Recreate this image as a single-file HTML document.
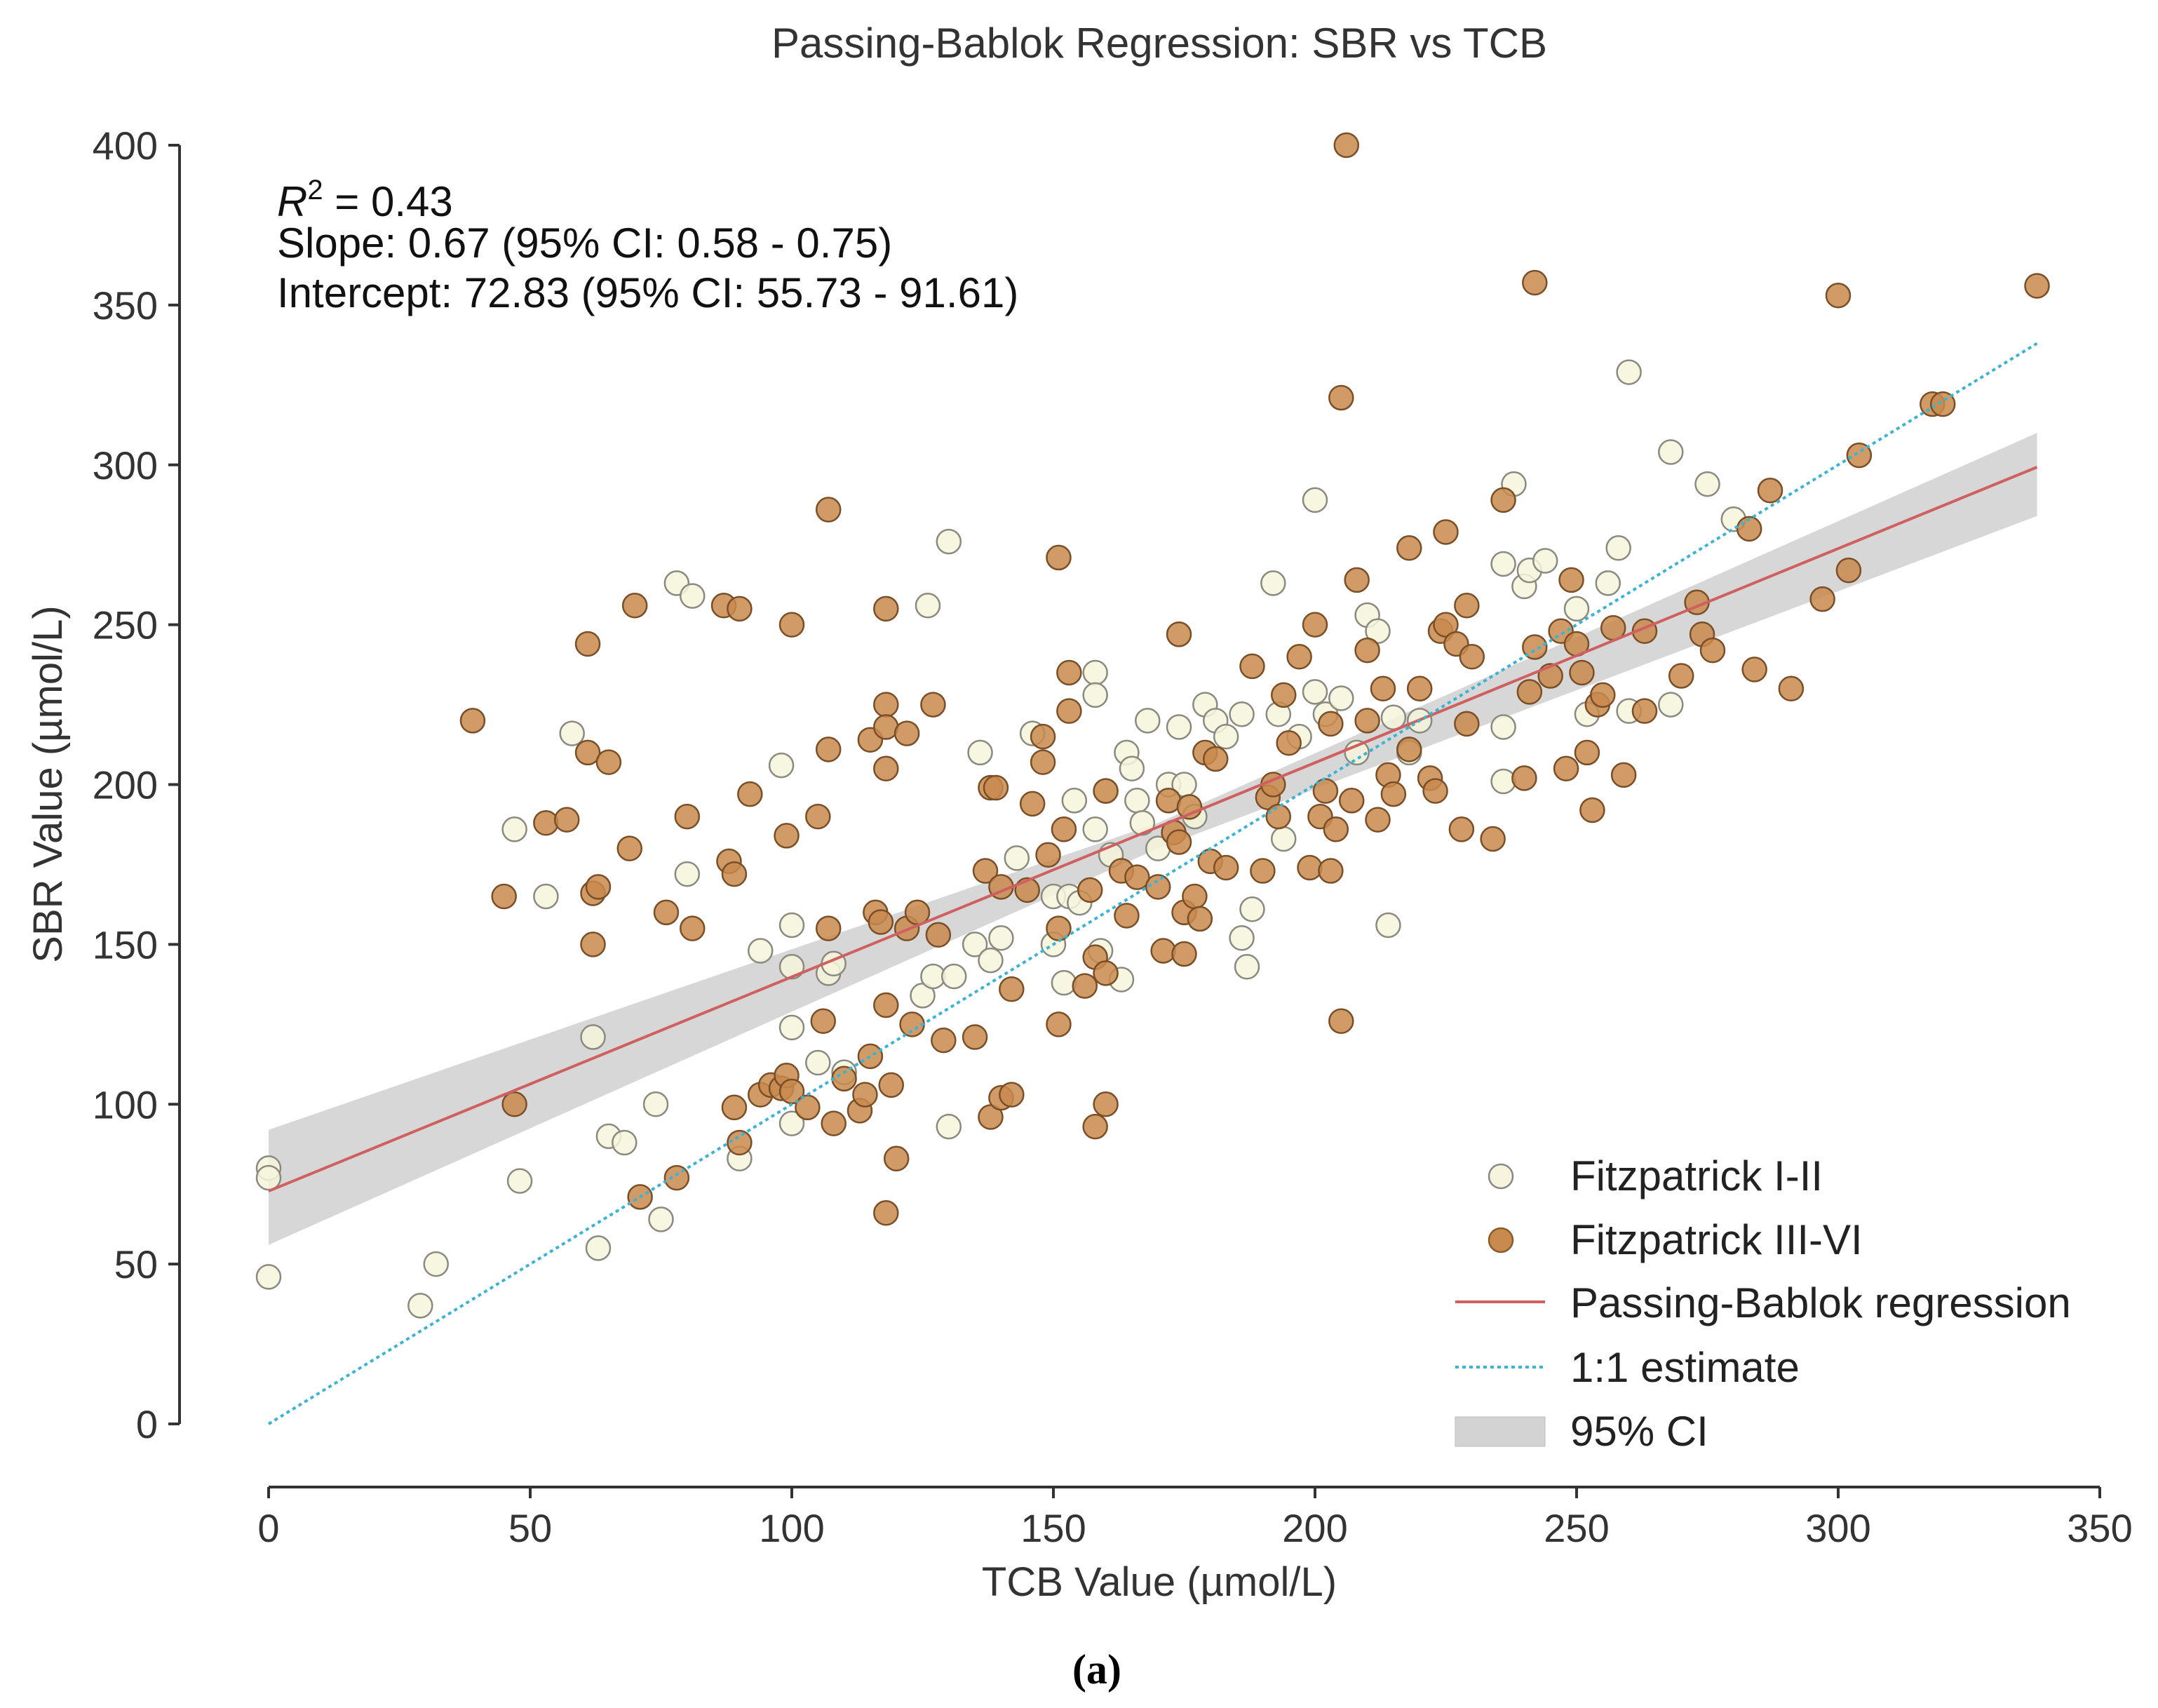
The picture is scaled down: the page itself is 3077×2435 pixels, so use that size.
<!DOCTYPE html>
<html><head><meta charset="utf-8">
<style>
html,body{margin:0;padding:0;background:#fff;}
svg{display:block;font-family:"Liberation Sans",sans-serif;}
</style></head>
<body>
<svg id="chart" width="3077" height="2435" viewBox="0 0 3077 2435" xmlns="http://www.w3.org/2000/svg">
<rect width="3077" height="2435" fill="#fff"/>
<text x="1653" y="82" font-size="60" fill="#333" text-anchor="middle">Passing-Bablok Regression: SBR vs TCB</text>
<g id="plot"></g>
<g font-size="60" fill="#111">
<text x="395" y="308"><tspan font-style="italic">R</tspan><tspan font-size="40" dy="-24">2</tspan><tspan dy="24"> = 0.43</tspan></text>
<text x="395" y="367">Slope: 0.67 (95% CI: 0.58 - 0.75)</text>
<text x="395" y="438">Intercept: 72.83 (95% CI: 55.73 - 91.61)</text>
</g>
<text transform="translate(88,1118) rotate(-90)" font-size="58" fill="#333" text-anchor="middle">SBR Value (µmol/L)</text>
<text x="1653" y="2275" font-size="58" fill="#333" text-anchor="middle">TCB Value (µmol/L)</text>
<text x="1564" y="2400" font-size="60" font-weight="bold" font-family="Liberation Serif,serif" text-anchor="middle">(a)</text>
<g font-size="60" fill="#222">
<circle cx="2140" cy="1677" r="17" fill="#f6f4dc" stroke="#888" stroke-width="2.5"/>
<text x="2239" y="1697">Fitzpatrick I-II</text>
<circle cx="2140" cy="1768" r="17" fill="#c98a4e" stroke="#8a5a2e" stroke-width="2.5"/>
<text x="2239" y="1788">Fitzpatrick III-VI</text>
<line x1="2075" y1="1856" x2="2203" y2="1856" stroke="#d06060" stroke-width="4"/>
<text x="2239" y="1878">Passing-Bablok regression</text>
<line x1="2075" y1="1949" x2="2203" y2="1949" stroke="#3bb4d4" stroke-width="4" stroke-dasharray="5,5"/>
<text x="2239" y="1970">1:1 estimate</text>
<rect x="2075" y="2020" width="128" height="42" fill="#d3d3d3" stroke="#bbb"/>
<text x="2239" y="2061">95% CI</text>
</g>
</svg>
<script>
const xTicks=[0,50,100,150,200,250,300,350];
const yTicks=[0,50,100,150,200,250,300,350,400];
const lightX=[0,0,0,29,32,48,47,53,58,62,63,65,68,74,75,78,80,81,90,94,98,100,100,100,100,105,107,108,110,126,125,127,130,130,131,135,136,138,140,143,146,150,150,152,153,154,155,158,158,158,159,160,161,163,164,165,166,167,168,170,172,174,175,177,179,181,183,186,186,187,188,192,193,194,197,200,200,202,205,208,210,212,214,215,218,220,236,236,236,238,240,241,244,250,252,256,258,260,260,268,268,275,280];
const lightY=[80,77,46,37,50,76,186,165,216,121,55,90,88,100,64,263,172,259,83,148,206,156,143,124,94,113,141,144,110,256,134,140,276,93,140,150,210,145,152,177,216,165,150,138,165,195,163,235,228,186,148,198,178,139,210,205,195,188,220,180,200,218,200,190,225,220,215,222,152,143,161,263,222,183,215,229,289,222,227,210,253,248,156,221,210,220,269,218,201,294,262,267,270,255,222,263,274,329,223,304,225,294,283];
const darkX=[39,45,47,53,57,61,61,62,62,63,65,69,70,71,76,78,80,81,87,88,89,89,90,90,92,94,96,98,99,99,100,100,103,105,106,107,107,107,108,110,113,114,115,115,116,117,118,118,118,118,118,118,119,120,122,122,123,124,127,128,129,135,137,138,138,139,140,140,142,142,145,146,148,148,149,151,151,151,152,153,153,156,157,158,158,160,160,160,163,164,166,170,171,172,173,174,174,175,175,176,177,178,179,180,181,183,188,190,191,192,193,194,195,197,199,200,201,202,203,203,204,205,205,206,207,208,210,210,212,213,214,215,218,218,220,222,223,224,225,225,227,228,229,229,230,234,236,240,241,242,242,245,247,248,249,250,251,252,253,254,255,257,259,263,263,270,273,274,276,283,284,287,297,300,302,304,318,320,338,291];
const darkY=[220,165,100,188,189,244,210,150,166,168,207,180,256,71,160,77,190,155,256,176,172,99,255,88,197,103,106,105,109,184,250,104,99,190,126,211,286,155,94,108,98,103,214,115,160,157,255,225,218,205,131,66,106,83,216,155,125,160,225,153,120,121,173,96,199,199,102,168,136,103,167,194,215,207,178,271,155,125,186,235,223,137,167,146,93,100,198,141,173,159,171,168,148,195,185,182,247,147,160,193,165,158,210,176,208,174,237,173,196,200,190,228,213,240,174,250,190,198,219,173,186,126,321,400,195,264,220,242,189,230,203,197,274,211,230,202,198,248,250,279,244,186,219,256,240,183,289,202,229,243,357,234,248,205,264,244,235,210,192,225,228,249,203,223,248,234,257,247,242,280,236,292,258,353,267,303,319,319,356,230];
const regIntercept=72.83, regSlope=0.67, lineMaxX=338;
const ciX=[0,170,338];
const ciUpper=[92,188,310];
const ciLower=[56,180,284];

const X=v=>383+v*(2994-383)/350;
const Y=v=>2030-v*(2030-207)/400;
const NS="http://www.w3.org/2000/svg";
const g=document.getElementById('plot');
function mk(t,a){const e=document.createElementNS(NS,t);for(const k in a)e.setAttribute(k,a[k]);g.appendChild(e);return e;}

let ax=mk('line',{x1:256,y1:Y(400),x2:256,y2:Y(0),stroke:'#333','stroke-width':4});


let bx=mk('line',{x1:X(0),y1:2120,x2:X(350),y2:2120,stroke:'#333','stroke-width':4});


yTicks.forEach(v=>{
  const t=mk('line',{x1:240,y1:Y(v),x2:256,y2:Y(v),stroke:'#333','stroke-width':4});
  
  
  const l=mk('text',{x:225,y:Y(v)+20,'font-size':56,fill:'#333','text-anchor':'end'});
  l.textContent=v;
  
  
});
xTicks.forEach(v=>{
  const t=mk('line',{x1:X(v),y1:2120,x2:X(v),y2:2136,stroke:'#333','stroke-width':4});
  
  
  const l=mk('text',{x:X(v),y:2198,'font-size':56,fill:'#333','text-anchor':'middle'});
  l.textContent=v;
  
  
});
let pts=ciX.map((x,i)=>X(x)+','+Y(ciUpper[i]));
for(let i=ciX.length-1;i>=0;i--)pts.push(X(ciX[i])+','+Y(ciLower[i]));
const band=mk('polygon',{points:pts.join(' '),fill:'#bdbdbd','fill-opacity':0.6});


lightX.forEach((x,i)=>{
  const c=mk('circle',{cx:X(x),cy:Y(lightY[i]),r:17,fill:'#f6f4dc','fill-opacity':0.85,stroke:'#8a8a80','stroke-width':2.5});
  
  
});
darkX.forEach((x,i)=>{
  const c=mk('circle',{cx:X(x),cy:Y(darkY[i]),r:17,fill:'#c98a4e','fill-opacity':0.85,stroke:'#7a4f28','stroke-width':2.5});
  
  
});
const rl=mk('line',{x1:X(0),y1:Y(regIntercept),x2:X(lineMaxX),y2:Y(regIntercept+regSlope*lineMaxX),stroke:'#d06060','stroke-width':4});


const il=mk('line',{x1:X(0),y1:Y(0),x2:X(lineMaxX),y2:Y(lineMaxX),stroke:'#3bb4d4','stroke-width':4,'stroke-dasharray':'5,5'});


</script>
</body></html>
